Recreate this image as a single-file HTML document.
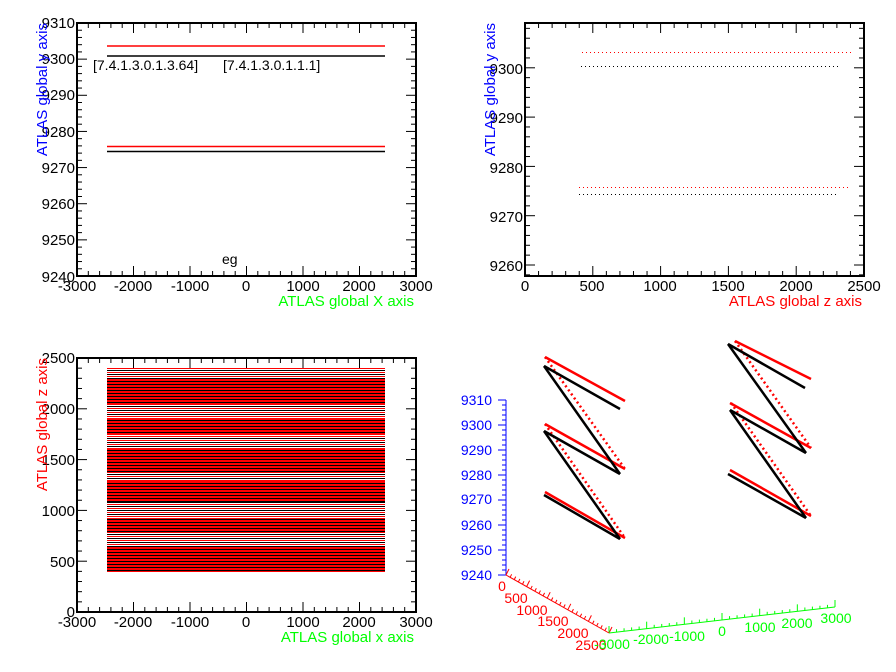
<!DOCTYPE html>
<html><head><meta charset="utf-8"><style>
html,body{margin:0;padding:0;background:#fff;}
svg{display:block;font-family:"Liberation Sans",Arial,sans-serif;}
</style></head><body>
<svg id="s" width="896" height="672" viewBox="0 0 896 672" xmlns="http://www.w3.org/2000/svg">
<rect width="896" height="672" fill="#fff"/>
<g id="ticks" stroke="#000" stroke-width="1"></g>
<g id="stripes" shape-rendering="crispEdges"></g>
<g fill="none" stroke="#000" stroke-width="2">
<rect x="77" y="23" width="339" height="253"/>
<rect x="525" y="23" width="339" height="253"/>
<rect x="77" y="358" width="339" height="254"/>
</g>
<g stroke-width="1.5">
<line x1="107" y1="46" x2="385" y2="46" stroke="#f00"/>
<line x1="107" y1="56" x2="385" y2="56" stroke="#000"/>
<line x1="107" y1="146.5" x2="385" y2="146.5" stroke="#f00"/>
<line x1="107" y1="151.5" x2="385" y2="151.5" stroke="#000"/>
</g>
<g font-size="14" fill="#000">
<text x="93" y="70">[7.4.1.3.0.1.3.64]</text>
<text x="223" y="70">[7.4.1.3.0.1.1.1]</text>
<text x="222" y="264">eg</text>
</g>
<g font-size="15" fill="#000" text-anchor="end">
<text x="75" y="28">9310</text><text x="75" y="64">9300</text><text x="75" y="100">9290</text>
<text x="75" y="137">9280</text><text x="75" y="173">9270</text><text x="75" y="209">9260</text>
<text x="75" y="245">9250</text><text x="75" y="282">9240</text>
</g>
<g font-size="15" fill="#000" text-anchor="middle">
<text x="77" y="291">-3000</text><text x="133" y="291">-2000</text><text x="190" y="291">-1000</text>
<text x="246" y="291">0</text><text x="303" y="291">1000</text><text x="359" y="291">2000</text><text x="416" y="291">3000</text>
</g>
<text x="414" y="306" font-size="15" fill="#0f0" text-anchor="end">ATLAS global X axis</text>
<text transform="translate(47,23) rotate(-90)" font-size="15" fill="#00f" text-anchor="end">ATLAS global y axis</text>

<g stroke-width="1" stroke-dasharray="1 3">
<line x1="582" y1="52.5" x2="854" y2="52.5" stroke="#f00"/>
<line x1="581" y1="66.5" x2="841" y2="66.5" stroke="#000"/>
<line x1="579" y1="187.5" x2="851" y2="187.5" stroke="#f00"/>
<line x1="579" y1="194.5" x2="839" y2="194.5" stroke="#000"/>
</g>
<g font-size="15" fill="#000" text-anchor="end">
<text x="523" y="74">9300</text><text x="523" y="123">9290</text><text x="523" y="173">9280</text>
<text x="523" y="222">9270</text><text x="523" y="271">9260</text>
</g>
<g font-size="15" fill="#000" text-anchor="middle">
<text x="525" y="291">0</text><text x="592" y="291">500</text><text x="660" y="291">1000</text>
<text x="728" y="291">1500</text><text x="796" y="291">2000</text><text x="864" y="291">2500</text>
</g>
<text x="862" y="306" font-size="15" fill="#f00" text-anchor="end">ATLAS global z axis</text>
<text transform="translate(495,23) rotate(-90)" font-size="15" fill="#00f" text-anchor="end">ATLAS global y axis</text>

<g font-size="15" fill="#000" text-anchor="end">
<text x="75" y="363">2500</text><text x="75" y="414">2000</text><text x="75" y="465">1500</text>
<text x="75" y="516">1000</text><text x="75" y="567">500</text><text x="75" y="617">0</text>
</g>
<g font-size="15" fill="#000" text-anchor="middle">
<text x="77" y="627">-3000</text><text x="133" y="627">-2000</text><text x="190" y="627">-1000</text>
<text x="246" y="627">0</text><text x="303" y="627">1000</text><text x="359" y="627">2000</text><text x="416" y="627">3000</text>
</g>
<text x="414" y="642" font-size="15" fill="#0f0" text-anchor="end">ATLAS global x axis</text>
<text transform="translate(47,358) rotate(-90)" font-size="15" fill="#f00" text-anchor="end">ATLAS global z axis</text>

<line x1="506" y1="400" x2="506" y2="575" stroke="#00f" stroke-width="1"/>
<g id="t4"></g>
<line x1="506" y1="575" x2="609" y2="633" stroke="#f00" stroke-width="1"/>
<line x1="609" y1="633" x2="835" y2="607" stroke="#0f0" stroke-width="1"/>
<g font-size="14" fill="#00f" text-anchor="end">
<text x="492" y="405">9310</text><text x="492" y="430">9300</text><text x="492" y="455">9290</text>
<text x="492" y="480">9280</text><text x="492" y="504">9270</text><text x="492" y="530">9260</text>
<text x="492" y="555">9250</text><text x="492" y="580">9240</text>
</g>
<g font-size="14" fill="#f00" text-anchor="middle">
<text x="502" y="591">0</text><text x="516" y="603">500</text><text x="532" y="615">1000</text>
<text x="553" y="626">1500</text><text x="573" y="638">2000</text><text x="591" y="650">2500</text>
</g>
<g font-size="14" fill="#0f0" text-anchor="middle">
<text x="612" y="649">-3000</text><text x="651" y="644">-2000</text><text x="687" y="641">-1000</text>
<text x="722" y="636">0</text><text x="760" y="632">1000</text><text x="797" y="628">2000</text><text x="836" y="623">3000</text>
</g>
<g stroke-width="2.5" fill="none">
<g stroke="#f00">
<line x1="545" y1="357" x2="625" y2="401"/><line x1="545" y1="424" x2="625" y2="469"/><line x1="545" y1="492" x2="625" y2="538"/>
<line x1="735" y1="341" x2="811" y2="379"/><line x1="730" y1="403" x2="811" y2="448"/><line x1="730" y1="470" x2="811" y2="516"/>
</g>
<g stroke="#f00" stroke-dasharray="2 3">
<line x1="545" y1="357" x2="625" y2="469"/><line x1="545" y1="424" x2="625" y2="538"/>
<line x1="735" y1="341" x2="811" y2="448"/><line x1="731" y1="403" x2="811" y2="516"/>
</g>
<g stroke="#000">
<line x1="544" y1="366" x2="620" y2="409"/><line x1="544" y1="366" x2="620" y2="474"/>
<line x1="544" y1="431" x2="620" y2="474"/><line x1="544" y1="431" x2="620" y2="539"/>
<line x1="544" y1="495" x2="620" y2="539"/>
<line x1="728" y1="344" x2="805" y2="388"/><line x1="728" y1="344" x2="806" y2="453"/>
<line x1="730" y1="410" x2="806" y2="453"/><line x1="730" y1="410" x2="806" y2="518"/>
<line x1="728" y1="474" x2="806" y2="518"/>
</g>
</g>
</svg>
<script>
var NS="http://www.w3.org/2000/svg";
function L(g,x1,y1,x2,y2,c,w){var l=document.createElementNS(NS,"line");l.setAttribute("x1",x1);l.setAttribute("y1",y1);l.setAttribute("x2",x2);l.setAttribute("y2",y2);l.setAttribute("stroke",c||"#000");l.setAttribute("stroke-width",w||1);g.appendChild(l);}
var T=document.getElementById("ticks");
function xt(x0,x1,yb,yt,n,minor){var step=(x1-x0)/n;for(var i=0;i<=n;i++){var x=x0+i*step,len=(i%minor==0)?10:5;L(T,x,yb,x,yb-len);L(T,x,yt,x,yt+len);}}
function yt(y0,y1,xl,xr,n,minor,off){var step=(y1-y0)/n;for(var i=0;i<=n;i++){var y=y0+i*step;var len=((i+off)%minor==0)?10:5;L(T,xl,y,xl+len,y);L(T,xr,y,xr-len,y);}}
xt(77,416,276,23,30,5);yt(23,276,77,416,35,5,0);
xt(525,864,276,23,25,5);
for(var v=9258;v<=9309;v+=2){var y=265-(v-9260)*4.93;var len=(v%10==0)?10:5;L(T,525,y,525+len,y);L(T,864,y,864-len,y);}
xt(77,416,612,358,30,5);yt(358,612,77,416,25,5,0);
var t4=document.getElementById("t4");
for(var i=0;i<=35;i++){var y=400+i*175/35;var len=(i%5==0)?8:4;L(t4,506,y,506-len,y,"#00f");}
for(var i=0;i<=25;i++){var f=i/25,x=506+103*f,y=575+58*f;var len=(i%5==0)?6:3;L(t4,x,y,x+len*0.5,y-len,"#f00");}
for(var i=0;i<=30;i++){var f=i/30,x=609+226*f,y=633-26*f;var len=(i%5==0)?7:3;L(t4,x,y,x,y-len,"#0f0");}
var S=document.getElementById("stripes");
var light=[[367,377],[405,417],[435,448],[473,480],[502,517],[532,545]];
for(var y=367;y<=571;y++){var inL=false;for(var j=0;j<light.length;j++)if(y>=light[j][0]&&y<=light[j][1])inL=true;
 var yy=y+0.5;
 if(inL){ if(y%2==0) L(S,107,yy,385,yy,(y%4==0)?"#f00":"#000",1); }
 else L(S,107,yy,385,yy,(y%3==0)?"#000":"#f00",1);
}
</script>
</body></html>
